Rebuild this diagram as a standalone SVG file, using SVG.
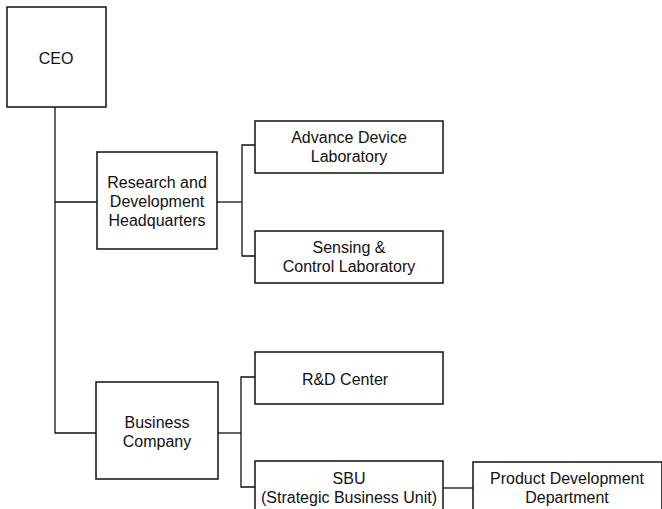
<svg xmlns="http://www.w3.org/2000/svg" width="662" height="509" viewBox="0 0 662 509">
<style>
.box{fill:#fff;stroke:#111;stroke-width:1.5}
.ln{fill:none;stroke:#111;stroke-width:1.3}
text{font-family:"Liberation Sans",Arial,sans-serif;font-size:16px;fill:#111;text-anchor:middle}
</style>
<rect width="662" height="509" fill="#fff"/>
<g id="connectors">
<path class="ln" d="M55,107 V433 H96"/>
<path class="ln" d="M55,202 H97"/>
<path class="ln" d="M217,202 H242"/>
<path class="ln" d="M255,145 H242 V256 H255"/>
<path class="ln" d="M218,433 H241"/>
<path class="ln" d="M255,377 H241 V487 H255"/>
<path class="ln" d="M443,488 H473"/>
</g>
<g id="ceo"><rect class="box" x="7" y="7" width="99" height="100"/><text x="56" y="64">CEO</text></g>
<g id="rdhq"><rect class="box" x="97" y="152" width="120" height="97"/><text x="157" y="188">Research and</text><text x="157" y="207">Development</text><text x="157" y="226">Headquarters</text></g>
<g id="adl"><rect class="box" x="255" y="121" width="188" height="52"/><text x="349" y="143">Advance Device</text><text x="349" y="162">Laboratory</text></g>
<g id="scl"><rect class="box" x="255" y="231" width="188" height="52"/><text x="349" y="253">Sensing &amp;</text><text x="349" y="272">Control Laboratory</text></g>
<g id="bc"><rect class="box" x="96" y="382" width="122" height="97"/><text x="157" y="428">Business</text><text x="157" y="447">Company</text></g>
<g id="rdc"><rect class="box" x="255" y="352" width="188" height="52"/><text x="345" y="385">R&amp;D Center</text></g>
<g id="sbu"><rect class="box" x="255" y="461" width="188" height="60"/><text x="349" y="484">SBU</text><text x="349" y="503">(Strategic Business Unit)</text></g>
<g id="pdd"><rect class="box" x="473" y="462" width="189" height="60"/><text x="567" y="484">Product Development</text><text x="567" y="503">Department</text></g>
</svg>
